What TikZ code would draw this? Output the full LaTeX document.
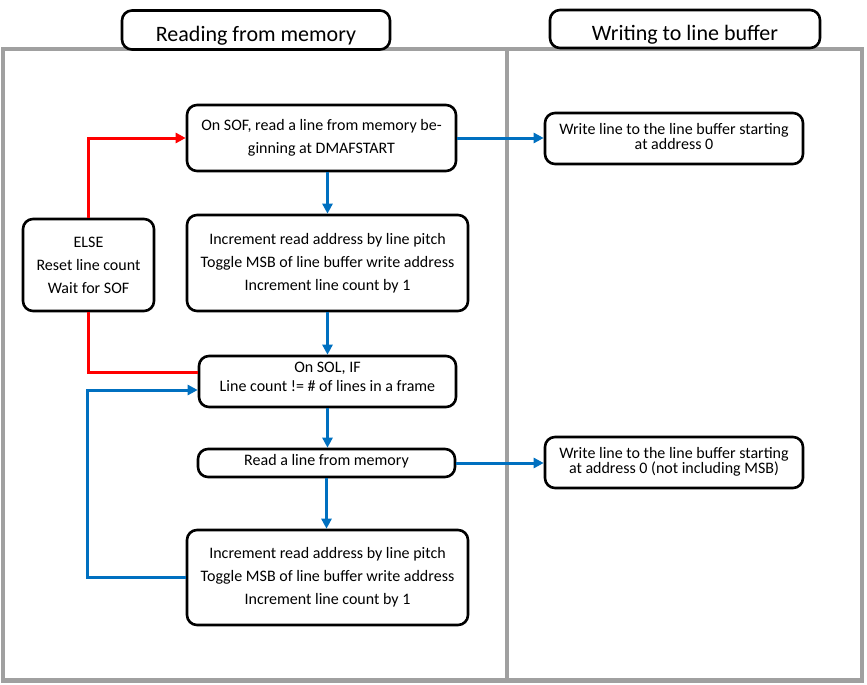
\documentclass[tikz,border=0pt]{standalone}
\usepackage{fontspec}
\setmainfont{Carlito}
\usetikzlibrary{arrows.meta}
\definecolor{framegray}{HTML}{A0A0A0}
\definecolor{flowblue}{HTML}{0070C0}
\definecolor{flowred}{HTML}{FF0000}

\begin{document}
\begin{tikzpicture}[x=1pt, y=-1pt,
  box/.style={draw, line width=2.6pt, rounded corners=10pt, fill=white,
    align=center, inner sep=0pt, font=\fontsize{16}{23}\selectfont},
  headbox/.style={box, font=\fontsize{22}{23}\selectfont, text height=24pt, text depth=0pt},
  tightbox/.style={box, font=\fontsize{16}{15}\selectfont, text depth=5pt},
  blueline/.style={draw=flowblue, line width=3pt, -{Triangle[length=10pt,width=10pt]}},
  redline/.style={draw=flowred, line width=3pt}]
\useasboundingbox (0,0) rectangle (867,685);
\draw[framegray, line width=3.5pt] (3,49) rectangle (862,680);
\draw[framegray, line width=3.5pt] (507,49) -- (507,680);
\draw[framegray, line width=5pt] (1,680) -- (864,680);

\node[headbox, minimum width=268pt, minimum height=39pt] (hread) at (256,30) {Reading from memory};
\node[headbox, minimum width=270pt, minimum height=38pt] (hwrite) at (685,29) {Writing to line buffer};

\node[box, minimum width=269pt, minimum height=66pt] (sof) at (321.5,138) {
  On SOF, read a line from memory be-\\ginning at DMAFSTART};
\node[box, minimum width=281pt, minimum height=96pt] (incA) at (327.5,263) {
  Increment read address by line pitch\\
  Toggle MSB of line buffer write address\\
  Increment line count by 1};
\node[box, minimum width=131pt, minimum height=92pt] (elsebox) at (88.5,265) {
  ELSE\\Reset line count\\Wait for SOF};
\node[box, font=\fontsize{16}{19}\selectfont, text depth=9pt, minimum width=257pt, minimum height=51pt] (sol) at (327.5,381.5) {
  On SOL, IF\\Line count != \# of lines in a frame};
\node[box, text depth=7pt, minimum width=257pt, minimum height=28pt] (rd) at (326.5,463) {
  Read a line from memory};
\node[box, minimum width=281pt, minimum height=95pt] (incB) at (327.5,577.5) {
  Increment read address by line pitch\\
  Toggle MSB of line buffer write address\\
  Increment line count by 1};
\node[tightbox, minimum width=258pt, minimum height=51pt] (wA) at (674,138.5) {
  Write line to the line buffer starting\\at address 0};
\node[tightbox, minimum width=258pt, minimum height=51pt] (wB) at (674,462.5) {
  Write line to the line buffer starting\\at address 0 (not including MSB)};

\draw[redline, -{Triangle[length=10pt,width=10pt]}] (elsebox.north) |- (sof.west);
\draw[redline] (elsebox.south) |- ([yshift=9.5pt]sol.west);
\draw[blueline] (sof.south -| incA.north) -- (incA.north);
\draw[blueline] (incA.south) -- (sol.north);
\draw[blueline] (sol.south) -- (sol.south |- rd.north);
\draw[blueline] (rd.south) -- (rd.south |- incB.north);
\draw[blueline] (incB.west) -- ++(-98,0) |- ([yshift=-8.5pt]sol.west);
\draw[blueline] (sof.east) -- (sof.east -| wA.west);
\draw[blueline] (rd.east) -- (rd.east -| wB.west);
\end{tikzpicture}
\end{document}
